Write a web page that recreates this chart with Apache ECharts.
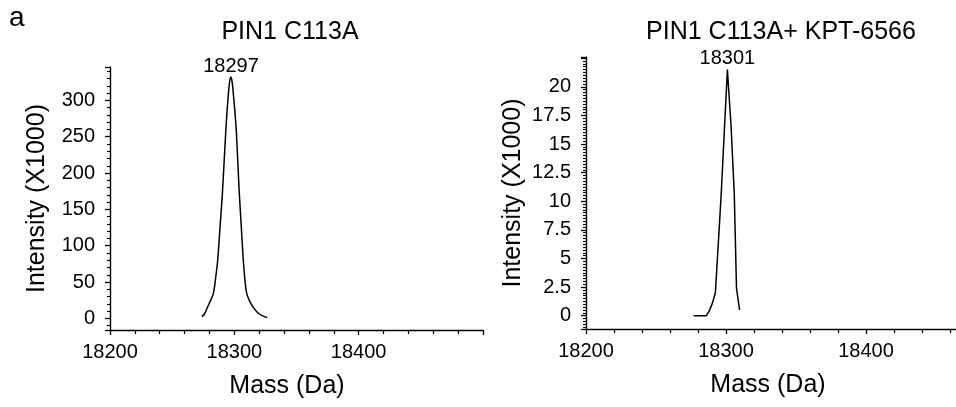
<!DOCTYPE html>
<html lang="en">
<head>
    <meta charset="UTF-8"/>
    <title>PIN1 C113A mass spectra</title>
    <script src="https://cdn.jsdelivr.net/npm/echarts@6/dist/echarts.min.js"></script>
    <style>
        html, body { margin: 0; padding: 0; background: #fff; }
        #main { width: 956px; height: 407px; }
    </style>
</head>
<body>
<div id="main"></div>
<script>
    // 左图 PIN1 C113A
    var massA  = [18273.8, 18276, 18278.3, 18280.5, 18283.1, 18284.7, 18286.6, 18288.5, 18290.4, 18293.3, 18295.2, 18296.4, 18297.3, 18298.2, 18299.2, 18301.4, 18304, 18305.6, 18307.2, 18308.7, 18310, 18312.5, 18315.3, 18320, 18326.5];
    var intenA = [2.5, 6, 15, 23, 34, 52, 80, 126, 172, 263, 309, 328, 332, 326, 309, 263, 172, 126, 80, 50, 34, 23, 15, 6, 1];
    // 右图 PIN1 C113A + KPT-6566
    var massB  = [18276.9, 18286, 18288, 18290.3, 18292.4, 18294.5, 18296.6, 18299, 18301, 18303.6, 18305.9, 18307.5, 18309.7];
    var intenB = [0, 0, 0.4, 1.1, 2.0, 6.3, 10.7, 16.6, 21.5, 16.6, 10.7, 2.4, 0.5];

    var titles = ['PIN1 C113A', 'PIN1 C113A+ KPT-6566'];
    var peakLabels = ['18297', '18301'];
    var panelLetter = 'a';
    var xName = 'Mass (Da)';
    var yName = 'Intensity (X1000)';
    var xMin = 18200, xMax = 18500, xStep = 100;
    var yStepA = 50, yStepB = 2.5;

    var FONT = "'Liberation Sans', Arial, sans-serif";

    function pairs(xs, ys) {
        var out = [];
        for (var i = 0; i < xs.length; i++) out.push([xs[i], ys[i]]);
        return out;
    }

    // 只在整数倍处显示刻度文字（顶端的不显示）
    function stepLabel(step, top) {
        return function (v) {
            var k = v / step;
            if (v > top + 1e-6) return '';
            return Math.abs(k - Math.round(k)) < 1e-6 ? String(v) : '';
        };
    }

    function xAxisOf(gi, nameShift) {
        return {
            gridIndex: gi, type: 'value',
            min: xMin, max: xMax, interval: xStep,
            name: xName, nameLocation: 'middle', nameGap: 44,
            nameTextStyle: { fontSize: 25, color: '#000', fontFamily: FONT, padding: [0, nameShift, 0, 0] },
            axisLine: { show: true, onZero: false, lineStyle: { color: '#000', width: 1.4 } },
            axisTick: { show: true, length: 5, lineStyle: { color: '#000', width: 1.3 } },
            minorTick: { show: true, splitNumber: 5, length: 4, lineStyle: { color: '#000', width: 1.2 } },
            axisLabel: {
                fontSize: 20, color: '#000', fontFamily: FONT, margin: 12, showMaxLabel: false,
                formatter: function (v) { return String(v); }
            },
            splitLine: { show: false }
        };
    }

    function yAxisOf(gi, mn, mx, step, top, minorSplit) {
        return {
            gridIndex: gi, type: 'value',
            min: mn, max: mx, minInterval: step, maxInterval: step,
            name: yName, nameLocation: 'middle', nameGap: 60,
            nameTextStyle: { fontSize: 25, color: '#000', fontFamily: FONT },
            axisLine: { show: true, onZero: false, lineStyle: { color: '#000', width: 1.4 } },
            axisTick: { show: true, length: 5, lineStyle: { color: '#000', width: 1.3 } },
            minorTick: { show: true, splitNumber: minorSplit, length: 3, lineStyle: { color: '#000', width: 1.1 } },
            axisLabel: { fontSize: 20, color: '#000', fontFamily: FONT, margin: 15, formatter: stepLabel(step, top) },
            splitLine: { show: false }
        };
    }

    function lineOf(gi, data, smooth, label) {
        return {
            type: 'line', xAxisIndex: gi, yAxisIndex: gi,
            data: data, smooth: smooth, symbol: 'none',
            lineStyle: { color: '#000', width: 1.5 },
            markPoint: {
                symbolSize: 0,
                data: [{ type: 'max' }],
                label: {
                    show: true, position: 'top', distance: 1,
                    fontSize: 20, color: '#000', fontFamily: FONT,
                    formatter: function () { return label; }
                }
            }
        };
    }

    var myChart = echarts.init(document.getElementById('main'), null, { renderer: 'canvas' });
    myChart.setOption({
        backgroundColor: '#fff',
        animation: false,
        title: [
            { text: panelLetter, left: 4, top: -1, textStyle: { fontSize: 28, fontWeight: 'normal', color: '#000', fontFamily: FONT } },
            { text: titles[0], left: 285, top: 15, textAlign: 'center', textStyle: { fontSize: 25, fontWeight: 'normal', color: '#000', fontFamily: FONT } },
            { text: titles[1], left: 776, top: 15, textAlign: 'center', textStyle: { fontSize: 25, fontWeight: 'normal', color: '#000', fontFamily: FONT } }
        ],
        grid: [
            { left: 110, top: 67, width: 373, height: 263, outerBoundsMode: 'none', containLabel: false },
            { left: 586, top: 57, width: 420, height: 272, outerBoundsMode: 'none', containLabel: false }
        ],
        xAxis: [xAxisOf(0, 19), xAxisOf(1, 56)],
        yAxis: [
            yAxisOf(0, -16, 346, yStepA, 300, 5),
            yAxisOf(1, -1.16, 22.6, yStepB, 20, 10)
        ],
        series: [
            lineOf(0, pairs(massA, intenA), 0.3, peakLabels[0]),
            lineOf(1, pairs(massB, intenB), false, peakLabels[1])
        ]
    });
</script>
</body>
</html>
